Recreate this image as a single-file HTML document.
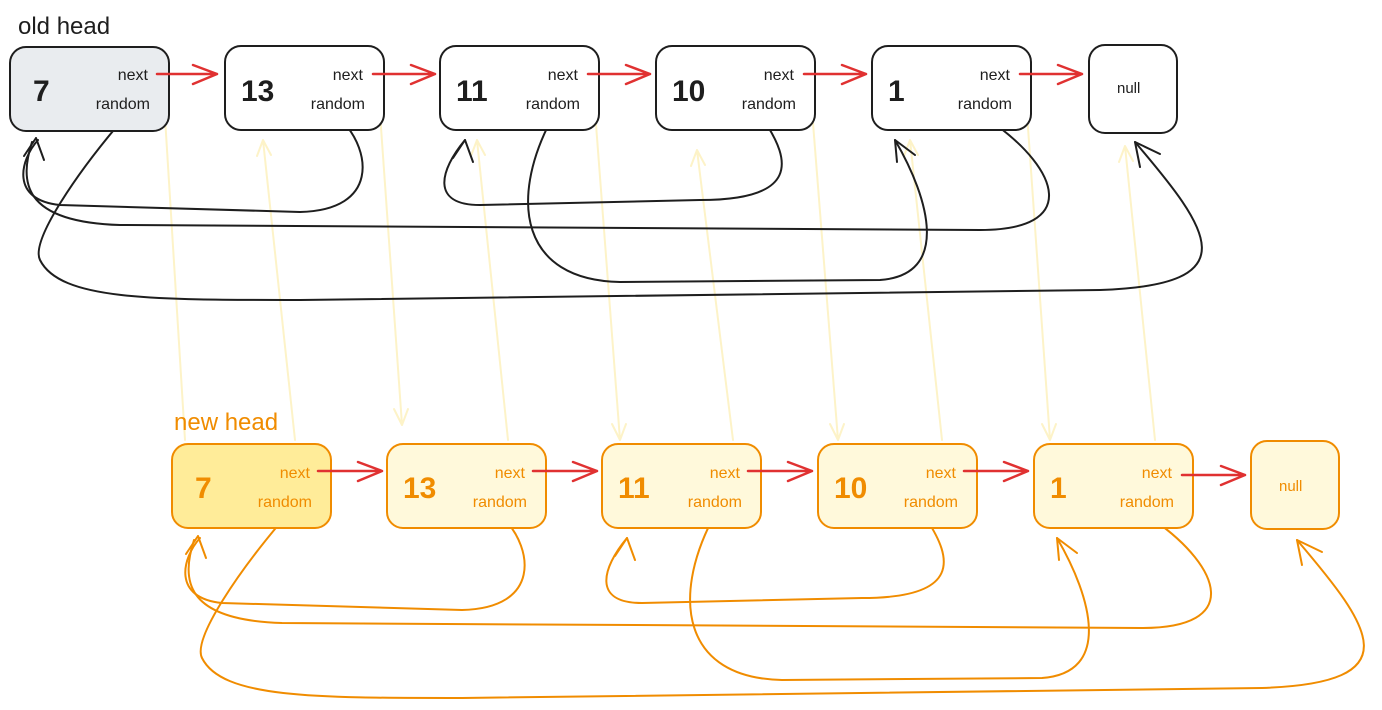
<!DOCTYPE html>
<html><head><style>
html,body{margin:0;padding:0;background:#fff;}
svg{display:block;}
text{font-family:"Liberation Sans",sans-serif;}
.hw{font-family:"DejaVu Sans","Liberation Sans",sans-serif;}
</style></head><body>
<svg width="1382" height="710" viewBox="0 0 1382 710" xmlns="http://www.w3.org/2000/svg">
<defs>
<g id="curves" fill="none" stroke-width="2" stroke-linecap="round">
<path d="M118 125 C 80 170, 30 240, 40 260 C 60 300, 150 300, 300 300 L 1100 290 C 1250 285, 1210 230, 1135 142"/>
<path d="M1135 142 l 25 12 M1135 142 l 5 25"/>
<path d="M343 122 C 370 150, 380 210, 300 212 L 60 205 C 10 200, 20 160, 38 140"/>
<path d="M550 122 C 510 200, 520 280, 620 282 L 880 280 C 950 275, 930 200, 895 140"/>
<path d="M895 140 l 20 15 M895 140 l 2 22"/>
<path d="M765 122 C 790 160, 800 200, 700 200 L 480 205 C 430 205, 440 170, 465 140"/>
<path d="M465 140 l 8 22 M465 140 l -12 18"/>
<path d="M992 122 C 1060 170, 1080 230, 980 230 L 120 225 C 20 222, 20 180, 32 142"/>
<path d="M36 138 l 8 22 M36 138 l -12 18"/>
</g>
</defs>

<!-- pale yellow cross links -->
<g stroke="#fdf3c8" stroke-width="2" fill="none" stroke-linecap="round">
<path d="M163 85 L185 440"/>
<path d="M378 85 L402 425 M402 425 l-8 -16 M402 425 l6 -16"/>
<path d="M593 85 L620 440 M620 440 l-8 -16 M620 440 l6 -16"/>
<path d="M810 85 L838 440 M838 440 l-8 -16 M838 440 l6 -16"/>
<path d="M1025 85 L1050 440 M1050 440 l-8 -16 M1050 440 l6 -16"/>
<path d="M295 440 L263 140 M263 140 l-6 16 M263 140 l8 15"/>
<path d="M508 440 L477 140 M477 140 l-6 16 M477 140 l8 15"/>
<path d="M733 440 L697 150 M697 150 l-6 16 M697 150 l8 15"/>
<path d="M942 440 L910 140 M910 140 l-6 16 M910 140 l8 15"/>
<path d="M1155 440 L1125 146 M1125 146 l-6 16 M1125 146 l8 15"/>
</g>

<use href="#curves" stroke="#1e1e1e"/>
<use href="#curves" stroke="#f08c00" transform="translate(162,398)"/>

<text x="18" y="34" font-size="24" fill="#1e1e1e">old head</text>
<text x="174" y="430" font-size="24" fill="#f08c00">new head</text>

<!-- top nodes -->
<g stroke="#1e1e1e" stroke-width="2" fill="#fff">
<rect x="10" y="47" width="159" height="84" rx="16" fill="#e9ecef"/>
<rect x="225" y="46" width="159" height="84" rx="16"/>
<rect x="440" y="46" width="159" height="84" rx="16"/>
<rect x="656" y="46" width="159" height="84" rx="16"/>
<rect x="872" y="46" width="159" height="84" rx="16"/>
<rect x="1089" y="45" width="88" height="88" rx="16"/>
</g>
<g fill="#1e1e1e" class="hw">
<text x="33" y="101" font-size="30" font-weight="bold">7</text>
<text x="241" y="101" font-size="30" font-weight="bold">13</text>
<text x="456" y="101" font-size="30" font-weight="bold">11</text>
<text x="672" y="101" font-size="30" font-weight="bold">10</text>
<text x="888" y="101" font-size="30" font-weight="bold">1</text>
<text x="1117" y="93" font-size="15">null</text>
<g font-size="16" text-anchor="end">
<text x="148" y="80">next</text><text x="150" y="109">random</text>
<text x="363" y="80">next</text><text x="365" y="109">random</text>
<text x="578" y="80">next</text><text x="580" y="109">random</text>
<text x="794" y="80">next</text><text x="796" y="109">random</text>
<text x="1010" y="80">next</text><text x="1012" y="109">random</text>
</g></g>

<!-- bottom nodes -->
<g stroke="#f08c00" stroke-width="2" fill="#fff9db">
<rect x="172" y="444" width="159" height="84" rx="16" fill="#ffec99"/>
<rect x="387" y="444" width="159" height="84" rx="16"/>
<rect x="602" y="444" width="159" height="84" rx="16"/>
<rect x="818" y="444" width="159" height="84" rx="16"/>
<rect x="1034" y="444" width="159" height="84" rx="16"/>
<rect x="1251" y="441" width="88" height="88" rx="16"/>
</g>
<g fill="#f08c00" class="hw">
<text x="195" y="498" font-size="30" font-weight="bold">7</text>
<text x="403" y="498" font-size="30" font-weight="bold">13</text>
<text x="618" y="498" font-size="30" font-weight="bold">11</text>
<text x="834" y="498" font-size="30" font-weight="bold">10</text>
<text x="1050" y="498" font-size="30" font-weight="bold">1</text>
<text x="1279" y="491" font-size="15">null</text>
<g font-size="16" text-anchor="end">
<text x="310" y="478">next</text><text x="312" y="507">random</text>
<text x="525" y="478">next</text><text x="527" y="507">random</text>
<text x="740" y="478">next</text><text x="742" y="507">random</text>
<text x="956" y="478">next</text><text x="958" y="507">random</text>
<text x="1172" y="478">next</text><text x="1174" y="507">random</text>
</g></g>

<!-- red next arrows -->
<g stroke="#e03131" stroke-width="2.5" fill="none" stroke-linecap="round">
<path d="M157 74 L217 74 M217 74 l-24 -9 M217 74 l-24 10"/>
<path d="M373 74 L435 74 M435 74 l-24 -9 M435 74 l-24 10"/>
<path d="M588 74 L650 74 M650 74 l-24 -9 M650 74 l-24 10"/>
<path d="M804 74 L866 74 M866 74 l-24 -9 M866 74 l-24 10"/>
<path d="M1020 74 L1082 74 M1082 74 l-24 -9 M1082 74 l-24 10"/>
<path d="M318 471 L382 471 M382 471 l-24 -9 M382 471 l-24 10"/>
<path d="M533 471 L597 471 M597 471 l-24 -9 M597 471 l-24 10"/>
<path d="M748 471 L812 471 M812 471 l-24 -9 M812 471 l-24 10"/>
<path d="M964 471 L1028 471 M1028 471 l-24 -9 M1028 471 l-24 10"/>
<path d="M1182 475 L1245 475 M1245 475 l-24 -9 M1245 475 l-24 10"/>
</g>
</svg>
</body></html>
